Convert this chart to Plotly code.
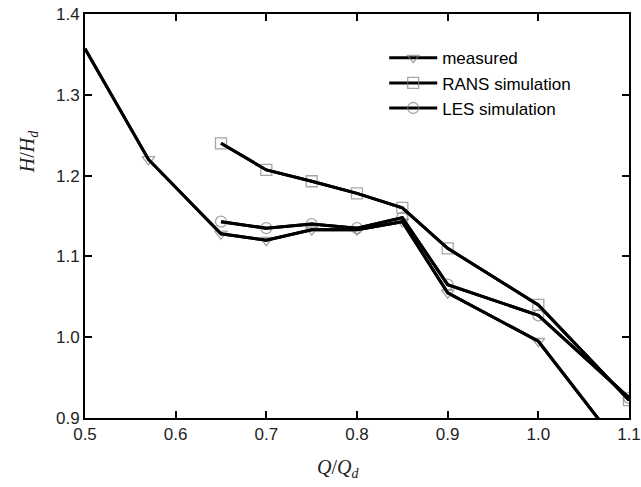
import plotly.graph_objects as go

# Data
meas_x = [0.5, 0.57, 0.65, 0.70, 0.75, 0.80, 0.85, 0.90, 1.00, 1.10]
meas_y = [1.357, 1.220, 1.128, 1.120, 1.133, 1.133, 1.143, 1.055, 0.995, 0.850]

rans_x = [0.65, 0.70, 0.75, 0.80, 0.85, 0.90, 1.00, 1.10]
rans_y = [1.240, 1.207, 1.193, 1.178, 1.160, 1.110, 1.040, 0.922]

les_x = [0.65, 0.70, 0.75, 0.80, 0.85, 0.90, 1.00, 1.10]
les_y = [1.143, 1.135, 1.140, 1.135, 1.148, 1.065, 1.027, 0.925]

x_ticks = [0.5, 0.6, 0.7, 0.8, 0.9, 1.0, 1.1]
x_tick_labels = ["0.5", "0.6", "0.7", "0.8", "0.9", "1.0", "1.1"]
y_ticks = [0.9, 1.0, 1.1, 1.2, 1.3, 1.4]
y_tick_labels = ["0.9", "1.0", "1.1", "1.2", "1.3", "1.4"]

names = ["measured", "RANS simulation", "LES simulation"]
symbols = ["triangle-down-open", "square-open", "circle-open"]
series = [(meas_x, meas_y), (rans_x, rans_y), (les_x, les_y)]

LINE_W = 3
MARK_C = "#7f7f7f"

fig = go.Figure()
for (xs, ys), name, sym in zip(series, names, symbols):
    sizes = [0 if x <= 0.5 else 11 for x in xs]
    fig.add_trace(go.Scatter(
        x=xs, y=ys, name=name, mode="lines+markers",
        line=dict(color="black", width=LINE_W),
        marker=dict(symbol=sym, size=sizes, color=MARK_C,
                    line=dict(color=MARK_C, width=1.3)),
    ))
# lines on top of markers
for (xs, ys), name in zip(series, names):
    fig.add_trace(go.Scatter(
        x=xs, y=ys, mode="lines", showlegend=False, hoverinfo="skip",
        line=dict(color="black", width=LINE_W),
    ))

axis_common = dict(
    showgrid=False, zeroline=False, showline=True, linecolor="black",
    linewidth=2, mirror="ticks", ticks="inside", ticklen=7, tickwidth=1.5,
    tickcolor="black", automargin=False, ticklabeloverflow="allow",
    tickfont=dict(family="Liberation Sans, Arial", size=17, color="#222"),
)

fig.update_layout(
    width=641, height=487,
    margin=dict(l=85, r=12, t=14, b=69),
    paper_bgcolor="white", plot_bgcolor="white",
    xaxis=dict(range=[0.5, 1.1], tickvals=x_ticks, ticktext=x_tick_labels, **axis_common),
    yaxis=dict(range=[0.9, 1.4], tickvals=y_ticks, ticktext=y_tick_labels, **axis_common),
    legend=dict(x=0.55, y=0.935, xanchor="left", yanchor="top",
                bgcolor="rgba(0,0,0,0)", borderwidth=0,
                font=dict(family="Liberation Sans, Arial", size=17, color="black"),
                tracegroupgap=0, itemwidth=48),
    showlegend=True,
    annotations=[
        dict(text="<i>Q</i>/<i>Q<sub>d</sub></i>", x=0.465, y=-0.09, xref="paper", yref="paper",
             xanchor="center", yanchor="top", showarrow=False,
             font=dict(family="Liberation Serif, Times New Roman", size=20, color="#222")),
        dict(text="<i>H</i>/<i>H<sub>d</sub></i>", x=-0.105, y=0.66, xref="paper", yref="paper",
             xanchor="center", yanchor="middle", showarrow=False, textangle=-90,
             font=dict(family="Liberation Serif, Times New Roman", size=20, color="#222")),
    ],
)

fig.write_html("out.html", config={"displayModeBar": False},
               post_script="document.body.style.margin='0';")
